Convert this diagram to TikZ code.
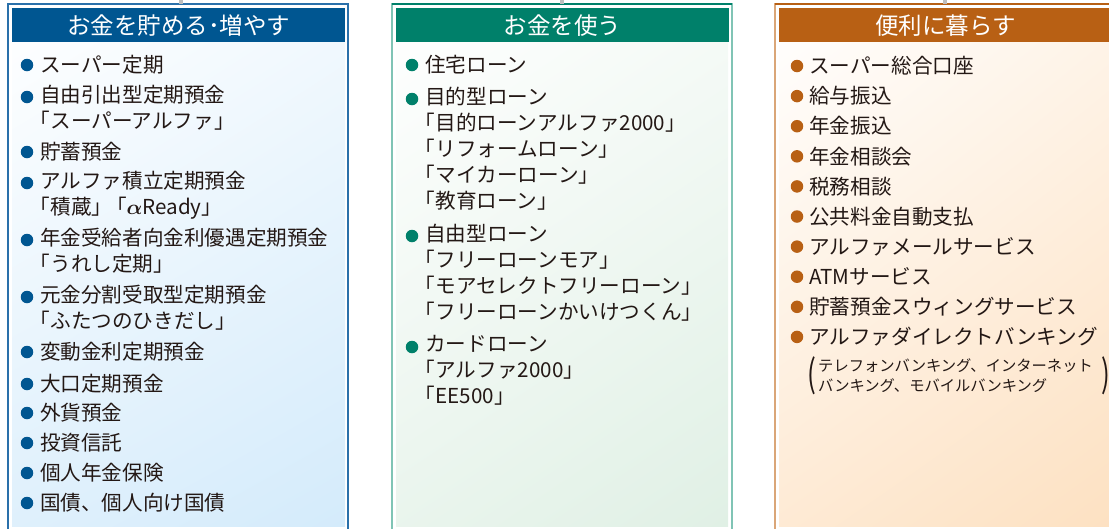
\documentclass[tikz,border=0pt]{standalone}
\usepackage{fontspec}
\usepackage{amsmath}
\usepackage{graphicx}
\setmainfont{Noto Sans CJK JP}
\usetikzlibrary{positioning}
\usetikzlibrary{shadings}

\definecolor{saveblue}{RGB}{0,86,145}
\definecolor{saveline}{RGB}{42,112,170}
\definecolor{savetint}{RGB}{212,235,251}
\definecolor{usegreen}{RGB}{0,128,106}
\definecolor{useline}{RGB}{128,196,181}
\definecolor{usetint}{RGB}{224,240,229}
\definecolor{liveorange}{RGB}{184,96,20}
\definecolor{liveline}{RGB}{218,166,120}
\definecolor{livetint}{RGB}{253,225,194}
\definecolor{stubgray}{RGB}{190,190,190}
\definecolor{ink}{RGB}{35,24,21}

% opening bracket pulled to the line start
\newcommand\kl{\hspace*{-.5em}「}
% tall thin parenthesis
\newcommand\tallparen[1]{\scalebox{1}[1.45]{\fontsize{26}{26}\selectfont #1}}

\begin{document}
\begin{tikzpicture}[x=1pt,y=-1pt,
  frame/.style={draw=#1, line width=1.5pt, minimum width=340pt, minimum height=540pt,
    anchor=north west, inner sep=0pt, outer sep=0pt},
  head/.style={fill=#1, text=white, minimum width=333pt, minimum height=34pt,
    anchor=north west, inner sep=0pt, font=\fontsize{23.5}{24}\selectfont},
  item/.style={anchor=north west, inner sep=0pt, align=left, text=ink,
    font=\fontsize{20.6}{26}\selectfont, execute at begin node={\rule{0pt}{19.5pt}}},
  dot/.style={circle, fill=#1, minimum size=12.5pt, inner sep=0pt},
  stub/.style={draw=stubgray, line width=4pt},
  note/.style={anchor=north west, inner sep=0pt, align=left, text=ink,
    font=\fontsize{15.3}{19.5}\selectfont, execute at begin node={\rule{0pt}{14.5pt}}},
  paren/.style={inner sep=0pt, text=ink}
]
  \useasboundingbox (0,0) rectangle (1109,528);
  \clip (0,0) rectangle (1109,528);

  % three panels
  \node[frame=saveline] (savebox) at (8,4) {};
  \node[frame=useline] (usebox) at (392,4) {};
  \node[frame=liveline] (livebox) at (775,4) {};
  \draw[line width=1.5pt, usegreen] (usebox.north west) -- (usebox.north east);
  \draw[line width=1.5pt, liveorange] (livebox.north west) -- (livebox.north east);

  \shade[upper left=white, upper right=savetint!30, lower left=savetint!75, lower right=savetint]
    (12,8) rectangle (345,526);
  \shade[upper left=white, upper right=usetint!30, lower left=usetint!70, lower right=usetint]
    (396,8) rectangle (728,526);
  \shade[upper left=white, upper right=livetint!35, lower left=livetint!70, lower right=livetint]
    (779,8) rectangle (1111,526);

  % stubs from above
  \coordinate (savetop) at (181,0);
  \coordinate (usetop) at (562,0);
  \coordinate (livetop) at (945,0);
  \draw[stub] (savetop) -- (savetop |- savebox.north);
  \draw[stub] (usetop) -- (usetop |- usebox.north);
  \draw[stub] (livetop) -- (livetop |- livebox.north);

  % headers
  \node[head=saveblue] (savehead) at (12,8) {お金を貯める･増やす};
  \node[head=usegreen] (usehead) at (396,8) {お金を使う};
  \node[head=liveorange] (livehead) at (779,8) {便利に暮らす};

  % items
  \foreach \y/\txt [count=\i] in {65/スーパー定期,
      97/{自由引出型定期預金\\\kl スーパーアルファ」},
      152/貯蓄預金,
      183/{アルファ積立定期預金\\\kl 積蔵」\hspace{-.3em}「$\boldsymbol{\alpha}$Ready」},
      240/{年金受給者向金利優遇定期預金\\\kl うれし定期」},
      297/{元金分割受取型定期預金\\\kl ふたつのひきだし」},
      352/変動金利定期預金, 384/大口定期預金, 413/外貨預金,
      443/投資信託, 473/個人年金保険, 503/国債、個人向け国債} {
    \node[dot=saveblue] (saved\i) at (27,\y) {};
    \node[item] (save\i) at (40,\y-12) {\txt};
  }

  \foreach \y/\txt [count=\i] in {65/住宅ローン,
      99/{目的型ローン\\\kl 目的ローンアルファ2000」\\\kl リフォームローン」\\\kl マイカーローン」\\\kl 教育ローン」},
      236/{自由型ローン\\\kl フリーローンモア」\\\kl モアセレクトフリーローン」\\\kl フリーローンかいけつくん」},
      347/{カードローン\\\kl アルファ2000」\\\kl EE500」}} {
    \node[dot=usegreen] (used\i) at (412,\y) {};
    \node[item] (use\i) at (425,\y-12) {\txt};
  }

  \foreach \txt [count=\i] in {スーパー総合口座, 給与振込, 年金振込, 年金相談会,
      税務相談, 公共料金自動支払, アルファメールサービス, ATMサービス,
      貯蓄預金スウィングサービス, アルファダイレクトバンキング} {
    \node[dot=liveorange] (lived\i) at (797,66+30.1*\i-30.1) {};
    \node[item] (live\i) at (809,54+30.1*\i-30.1) {\txt};
  }

  \node[note] (livenote) at (818,358.5) {テレフォンバンキング、インターネット\\バンキング、モバイルバンキング};
  \node[paren, left=2pt of livenote] (livenotel) {\tallparen{(}};
  \node[paren, right=8pt of livenote] (livenoter) {\tallparen{)}};
\end{tikzpicture}
\end{document}
